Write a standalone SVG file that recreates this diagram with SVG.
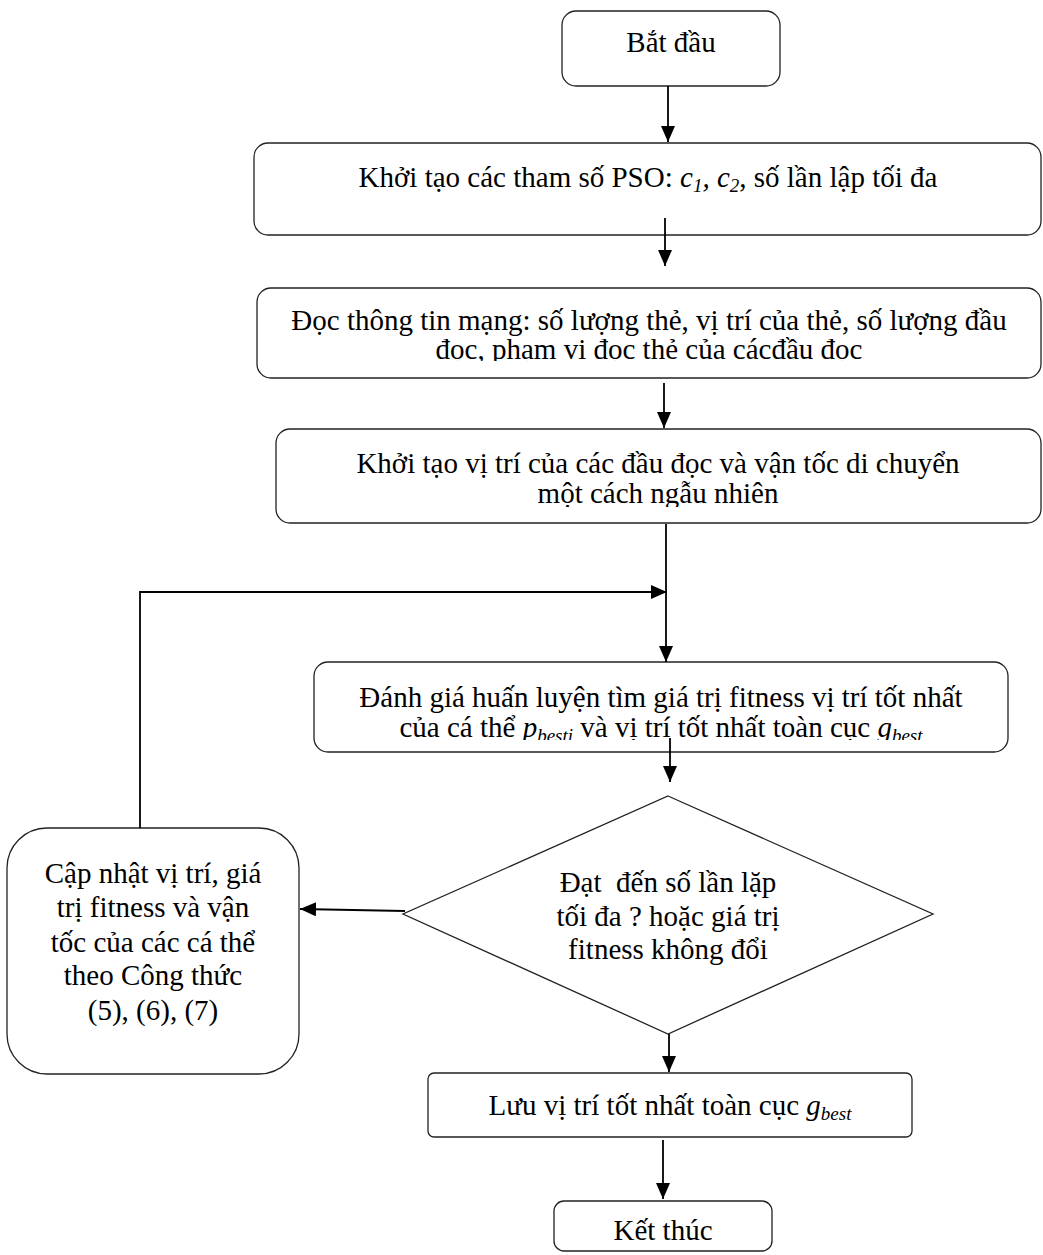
<svg xmlns="http://www.w3.org/2000/svg" width="1043" height="1255" viewBox="0 0 1043 1255">
<style>
  .box { fill: #ffffff; stroke: #222222; stroke-width: 1.3; }
  .t { font-family: "Liberation Serif", "Times New Roman", serif; font-size: 29px; fill: #000000; text-anchor: middle; }
  .it { font-style: italic; }
  .sub { font-style: italic; font-size: 19px; }
  .conn { fill: none; stroke: #000000; stroke-width: 1.8; }
</style>
<defs>
  <marker id="arrow" markerUnits="userSpaceOnUse" markerWidth="16" markerHeight="14" refX="16" refY="7" orient="auto">
    <path d="M0,0 L16,7 L0,14 Z" fill="#000000"/>
  </marker>
  <clipPath id="clip3"><rect x="250" y="280" width="800" height="81"/></clipPath>
  <clipPath id="clip4"><rect x="270" y="420" width="780" height="87"/></clipPath>
  <clipPath id="clip5"><rect x="300" y="655" width="720" height="85"/></clipPath>
</defs>
<rect width="1043" height="1255" fill="#ffffff"/>

<g id="start">
  <rect class="box" x="562" y="11" width="218" height="75" rx="14"/>
  <text class="t" x="671" y="52">Bắt đầu</text>
</g>

<g id="init-params">
  <rect class="box" x="254" y="143" width="787" height="92" rx="14"/>
  <text class="t" x="648" y="187">Khởi tạo các tham số PSO: <tspan class="it">c</tspan><tspan class="sub" dy="5">1</tspan><tspan class="it" dy="-5">, c</tspan><tspan class="sub" dy="5">2</tspan><tspan dy="-5">, số lần lập tối đa</tspan></text>
</g>

<g id="read-network">
  <rect class="box" x="257" y="288" width="784" height="90" rx="14"/>
  <g clip-path="url(#clip3)">
    <text class="t" x="649" y="330">Đọc thông tin mạng: số lượng thẻ, vị trí của thẻ, số lượng đầu</text>
    <text class="t" x="649" y="359">đọc, phạm vi đọc thẻ của cácđầu đọc</text>
  </g>
</g>

<g id="init-readers">
  <rect class="box" x="276" y="429" width="765" height="94" rx="14"/>
  <g clip-path="url(#clip4)">
    <text class="t" x="658" y="473">Khởi tạo vị trí của các đầu đọc và vận tốc di chuyển</text>
    <text class="t" x="658" y="503">một cách ngẫu nhiên</text>
  </g>
</g>

<g id="evaluate">
  <rect class="box" x="314" y="662" width="694" height="90" rx="14"/>
  <g clip-path="url(#clip5)">
    <text class="t" x="661" y="707">Đánh giá huấn luyện tìm giá trị fitness vị trí tốt nhất</text>
    <text class="t" x="661" y="737">của cá thể <tspan class="it">p</tspan><tspan class="sub" dy="5">besti</tspan><tspan dy="-5"> và vị trí tốt nhất toàn cục </tspan><tspan class="it">g</tspan><tspan class="sub" dy="5">best</tspan></text>
  </g>
</g>

<g id="decision">
  <polygon class="box" points="668,796 933,914 668,1034 403,914"/>
  <text class="t" x="668" y="892">Đạt&#160; đến số lần lặp</text>
  <text class="t" x="668" y="926">tối đa ? hoặc giá trị</text>
  <text class="t" x="668" y="959">fitness không đổi</text>
</g>

<g id="update">
  <rect class="box" x="7" y="828" width="292" height="246" rx="40"/>
  <text class="t" x="153" y="883">Cập nhật vị trí, giá</text>
  <text class="t" x="153" y="917">trị fitness và vận</text>
  <text class="t" x="153" y="952">tốc của các cá thể</text>
  <text class="t" x="153" y="985">theo Công thức</text>
  <text class="t" x="153" y="1020">(5), (6), (7)</text>
</g>

<g id="save-best">
  <rect class="box" x="428" y="1073" width="484" height="64" rx="6"/>
  <text class="t" x="670" y="1115">Lưu vị trí tốt nhất toàn cục <tspan class="it">g</tspan><tspan class="sub" dy="5">best</tspan></text>
</g>

<g id="end">
  <rect class="box" x="554" y="1201" width="218" height="50" rx="10"/>
  <text class="t" x="663" y="1240">Kết thúc</text>
</g>

<g id="connectors">
  <line class="conn" x1="668" y1="86" x2="668" y2="142" marker-end="url(#arrow)"/>
  <line class="conn" x1="665" y1="218" x2="665" y2="266" marker-end="url(#arrow)"/>
  <line class="conn" x1="664" y1="383" x2="664" y2="428" marker-end="url(#arrow)"/>
  <line class="conn" x1="666" y1="524" x2="666" y2="662" marker-end="url(#arrow)"/>
  <polyline class="conn" points="140,828 140,592 667,592" marker-end="url(#arrow)"/>
  <line class="conn" x1="670" y1="738" x2="670" y2="782" marker-end="url(#arrow)"/>
  <line class="conn" x1="405" y1="911" x2="300" y2="909" marker-end="url(#arrow)"/>
  <line class="conn" x1="669" y1="1034" x2="669" y2="1072" marker-end="url(#arrow)"/>
  <line class="conn" x1="663" y1="1140" x2="663" y2="1199" marker-end="url(#arrow)"/>
</g>
</svg>
